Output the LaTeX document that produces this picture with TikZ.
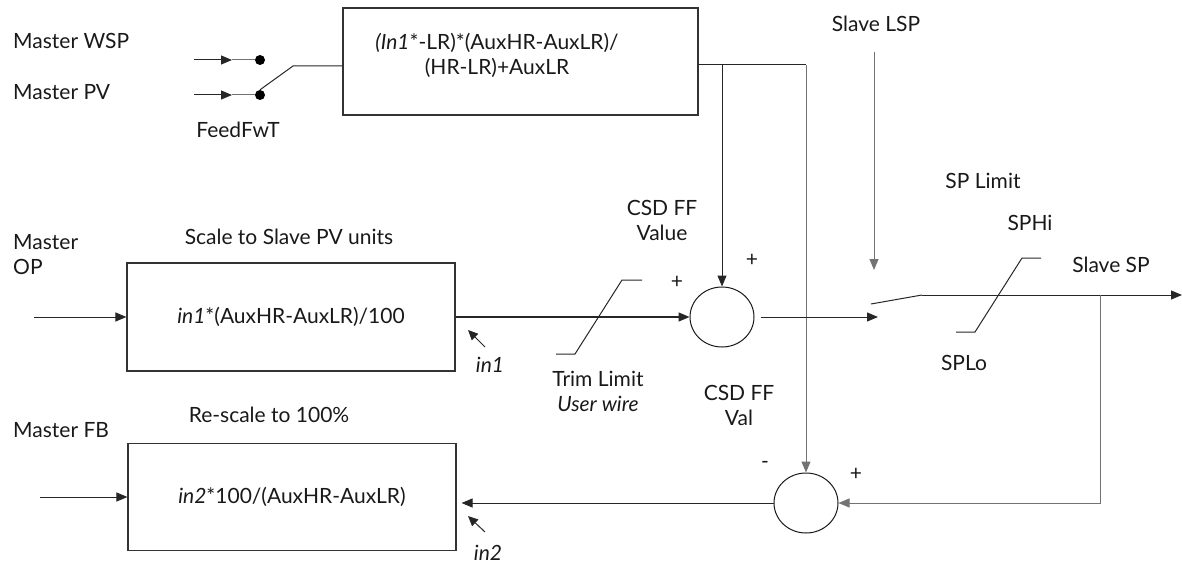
\documentclass[tikz,border=0pt]{standalone}
\usepackage{fontspec}
\setmainfont{Lato}
\usetikzlibrary{arrows.meta,shapes.geometric}
\begin{document}
\begin{tikzpicture}[x=1pt,y=-1pt,
  lbl/.style={font=\fontsize{21}{25}\selectfont, inner sep=0pt, align=center, text=black!90},
  boxn/.style={draw=black!80, line width=1.1pt, inner sep=0pt, font=\fontsize{21}{25}\selectfont, text=black!90, align=center},
  sumn/.style={draw=black!90, ellipse, line width=1pt, minimum width=64pt, minimum height=60pt, inner sep=0pt},
  wire/.style={line width=1pt, draw=black!85},
  gwire/.style={line width=1pt, draw=black!55},
  tip/.style={-{Triangle[length=11pt,width=9pt]}},
  dotn/.style={circle, fill=black, minimum size=10pt, inner sep=0pt}
  ]
\useasboundingbox (0,0) rectangle (1182,564);

% ---- boxes
\node[boxn, minimum width=355pt, minimum height=107pt] (b1) at (520.5,61.5) {};
\node[lbl] (b1t) at (497,55) {\textit{(In1}*-LR)*(AuxHR-AuxLR)/\\(HR-LR)+AuxLR};
\node[boxn, minimum width=328pt, minimum height=108pt] (b2) at (291,317) {\textit{in1}*(AuxHR-AuxLR)/100};
\node[boxn, minimum width=328pt, minimum height=107pt] (b3) at (292,497) {\textit{in2}*100/(AuxHR-AuxLR)};

% ---- summing junctions
\node[sumn] (sum1) at (722,317) {};
\node[sumn] (sum2) at (806,503) {};

% ---- labels
\node[lbl, anchor=west] (mwsp) at (13,41) {Master WSP};
\node[lbl, anchor=west] (mpv) at (13,92) {Master PV};
\node[lbl] (ffwt) at (238,130) {FeedFwT};
\node[lbl, anchor=west, align=left] (mop) at (13,255) {Master\\OP};
\node[lbl] (scl) at (289,237) {Scale to Slave PV units};
\node[lbl] (in1l) at (490,365) {\textit{in1}};
\node[lbl] (trim) at (598,391) {Trim Limit\\\textit{User wire}};
\node[lbl] (csd1) at (662,220) {CSD FF\\Value};
\node[lbl] (csd2) at (739,405) {CSD FF\\Val};
\node[lbl] (p1) at (677,282) {+};
\node[lbl] (p2) at (752,260) {+};
\node[lbl] (m3) at (765,465) {-};
\node[lbl] (p4) at (856,474) {+};
\node[lbl] (lsp) at (876,24) {Slave LSP};
\node[lbl] (spl) at (983,181) {SP Limit};
\node[lbl] (sphi) at (1030,223) {SPHi};
\node[lbl] (ssp) at (1111,265) {Slave SP};
\node[lbl] (splo) at (964,363) {SPLo};
\node[lbl] (rsc) at (269,415) {Re-scale to 100\%};
\node[lbl, anchor=west] (mfb) at (13,430) {Master FB};
\node[lbl] (in2l) at (488,553) {\textit{in2}};

% ---- FeedFwT selector
\coordinate (wspS) at (194,60);
\coordinate (wspA) at (232,60);
\coordinate (pvS) at (194,95);
\coordinate (pvA) at (232,95);
\node[dotn] (dwsp) at (260,60) {};
\node[dotn] (dpv) at (260,95) {};
\draw[wire, tip] (wspS) -- (wspA);
\draw[gwire] (wspA) -- (dwsp);
\draw[wire, tip] (pvS) -- (pvA);
\draw[gwire] (pvA) -- (dpv);
\coordinate (ffk) at (293,66);
\draw[wire] (dpv.north) -- (ffk) -- (ffk -| b1.west);

% ---- B1 output
\coordinate (b1o) at (698,65);
\coordinate (j1) at (722,65);
\coordinate (j2) at (806,65);
\draw[wire] (b1o) -- (j2);
\draw[wire, tip] (j1) -- (sum1.north);
\draw[gwire, tip] (j2) -- (sum2.north);

% ---- Master OP path
\coordinate (opS) at (34,317);
\draw[wire, tip] (opS) -- (b2.west);
\draw[wire, tip, line width=1.4pt] (b2.east) -- (sum1.west);
\coordinate (in1a) at (485,347);
\coordinate (in1b) at (468,330);
\draw[wire, -{Triangle[length=10pt,width=9pt]}] (in1a) -- (in1b);

% ---- trim limit symbol
\coordinate (t1) at (556,354);
\coordinate (t2) at (575,354);
\coordinate (t3) at (622,280);
\coordinate (t4) at (642,280);
\draw[wire] (t1) -- (t2) -- (t3) -- (t4);

% ---- Slave LSP & SP limit switch
\coordinate (lspT) at (874,52);
\coordinate (lspB) at (874,270);
\draw[gwire, tip] (lspT) -- (lspB);
\coordinate (swin) at (878,317);
\draw[wire, tip] ([xshift=6pt]sum1.east) -- (swin);
\coordinate (swa) at (871,304);
\coordinate (swb) at (922,295);
\coordinate (sout) at (1182,295);
\draw[wire] (swa) -- (swb);
\draw[wire, tip] (swb) -- (sout);
\coordinate (s1) at (956,332);
\coordinate (s2) at (975,332);
\coordinate (s3) at (1022,258);
\coordinate (s4) at (1041,258);
\draw[wire] (s1) -- (s2) -- (s3) -- (s4);

% ---- feedback branch
\coordinate (br) at (1100,295);
\coordinate (brd) at (1100,503);
\draw[gwire, tip] (br) -- (brd) -- (sum2.east);

% ---- Master FB path
\coordinate (fbS) at (40,497);
\draw[wire, tip] (fbS) -- (b3.west);
\draw[wire, tip] (sum2.west) -- ([xshift=5pt]b3.east |- sum2.west);
\coordinate (in2a) at (485,532);
\coordinate (in2b) at (468,516);
\draw[wire, -{Triangle[length=10pt,width=9pt]}] (in2a) -- (in2b);
\end{tikzpicture}
\end{document}
